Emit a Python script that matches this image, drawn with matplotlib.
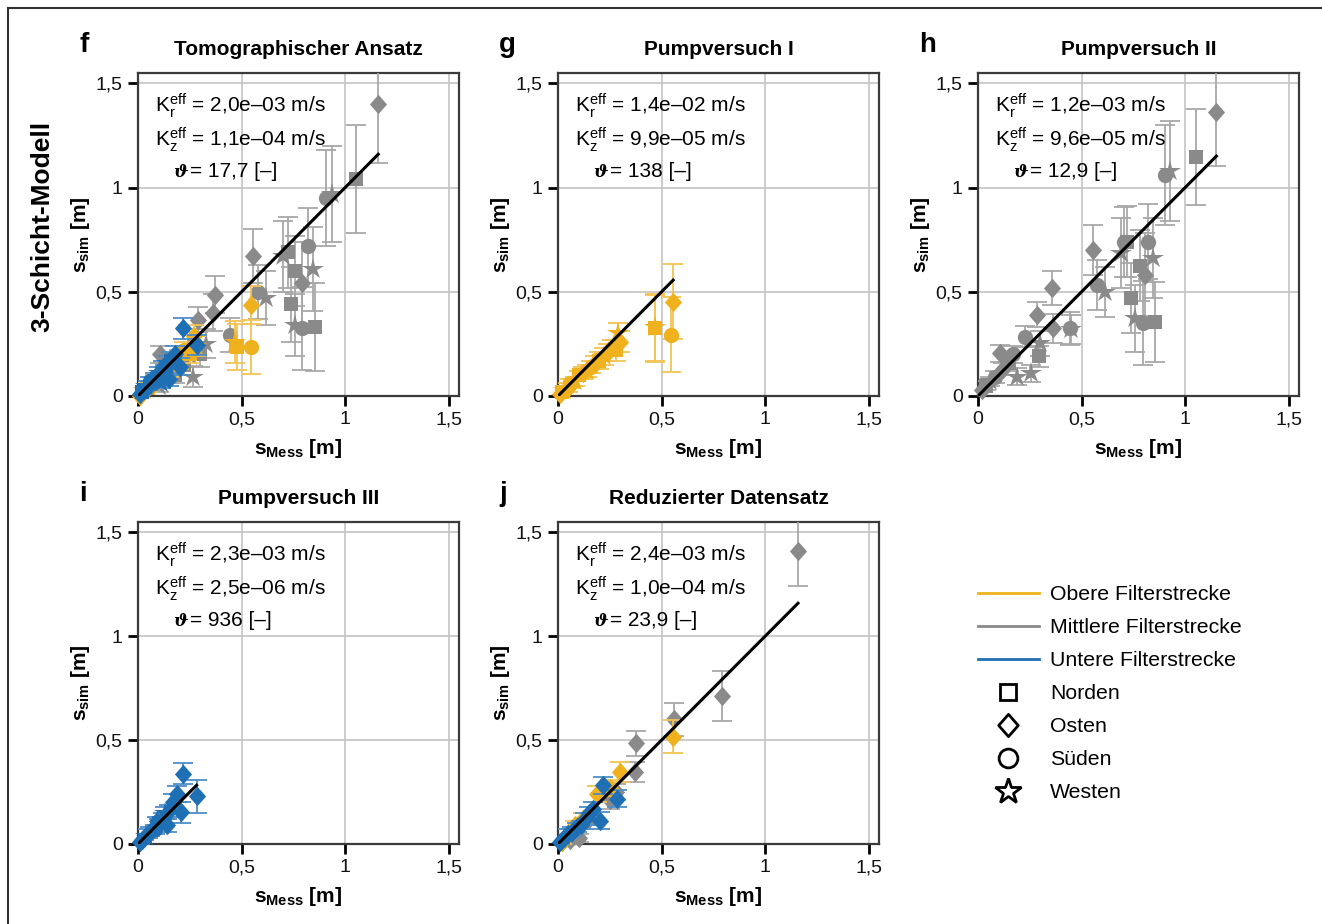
import matplotlib
matplotlib.use("Agg")
import matplotlib.pyplot as plt
from matplotlib.lines import Line2D
from matplotlib.path import Path

plt.rcParams['font.family'] = ['Liberation Sans', 'DejaVu Sans']
plt.rcParams['mathtext.fontset'] = 'custom'
plt.rcParams['mathtext.rm'] = 'Liberation Sans'
plt.rcParams['mathtext.bf'] = 'Liberation Sans:bold'
plt.rcParams['mathtext.it'] = 'Liberation Sans:italic'

# ---------------- data ----------------
panel_letters = ['f', 'g', 'h', 'i', 'j']
panel_titles = ['Tomographischer Ansatz', 'Pumpversuch I', 'Pumpversuch II',
                'Pumpversuch III', 'Reduzierter Datensatz']
kr_text = ['2,0e–03', '1,4e–02', '1,2e–03', '2,3e–03', '2,4e–03']
kz_text = ['1,1e–04', '9,9e–05', '9,6e–05', '2,5e–06', '1,0e–04']
theta_text = ['17,7', '138', '12,9', '936', '23,9']

tick_values = [0, 0.5, 1, 1.5]
tick_labels = ['0', '0,5', '1', '1,5']

filter_names = ['Obere Filterstrecke', 'Mittlere Filterstrecke', 'Untere Filterstrecke']
filter_colors = ['#EFB21E', '#8A8A8A', '#1F6FB4']
filter_err_colors = ['#F2C453', '#A8A8A8', '#4D8DC8']
direction_names = ['Norden', 'Osten', 'Süden', 'Westen']
direction_codes = ['N', 'O', 'S', 'W']

# Panel f (Tomographischer Ansatz)
f_gray_x = [1.16, 1.055, 0.91, 0.935, 0.556, 0.725, 0.70, 0.82, 0.757, 0.79, 0.846, 0.741, 0.757, 0.79, 0.854,
            0.58, 0.62, 0.37, 0.36, 0.444, 0.33, 0.29, 0.267, 0.20, 0.22, 0.25, 0.15, 0.12, 0.08, 0.05, 0.03,
            0.10, 0.18, 0.30, 0.27, 0.106]
f_gray_y = [1.40, 1.04, 0.95, 0.97, 0.67, 0.69, 0.67, 0.72, 0.60, 0.54, 0.61, 0.44, 0.34, 0.325, 0.33,
            0.50, 0.47, 0.486, 0.40, 0.293, 0.25, 0.365, 0.093, 0.17, 0.15, 0.19, 0.10, 0.12, 0.07, 0.04, 0.03,
            0.05, 0.10, 0.20, 0.26, 0.20]
f_gray_e = [0.28, 0.26, 0.23, 0.23, 0.13, 0.17, 0.17, 0.18, 0.17, 0.20, 0.20, 0.18, 0.15, 0.20, 0.21,
            0.13, 0.13, 0.09, 0.09, 0.08, 0.07, 0.06, 0.05, 0.05, 0.05, 0.05, 0.04, 0.04, 0.03, 0.02, 0.02,
            0.03, 0.04, 0.06, 0.06, 0.04]
f_gray_m = ['O', 'N', 'S', 'W', 'O', 'N', 'W', 'S', 'N', 'O', 'W', 'N', 'W', 'S', 'N',
            'S', 'W', 'O', 'O', 'S', 'W', 'O', 'W', 'S', 'N', 'W', 'W', 'O', 'N', 'S', 'O',
            'W', 'N', 'N', 'S', 'O']

f_orange_x = [0.548, 0.548, 0.476, 0.47, 0.28, 0.27, 0.25, 0.22, 0.20, 0.17, 0.15, 0.12, 0.10, 0.07, 0.05, 0.03, 0.01]
f_orange_y = [0.437, 0.237, 0.237, 0.26, 0.24, 0.29, 0.20, 0.22, 0.17, 0.16, 0.12, 0.11, 0.09, 0.07, 0.04, 0.03, 0.00]
f_orange_e = [0.09, 0.13, 0.11, 0.10, 0.05, 0.05, 0.04, 0.04, 0.04, 0.03, 0.03, 0.03, 0.02, 0.02, 0.02, 0.01, 0.01]
f_orange_m = ['O', 'S', 'N', 'W', 'W', 'O', 'N', 'S', 'W', 'O', 'N', 'W', 'S', 'O', 'N', 'W', 'O']

f_blue_x = [0.219, 0.283, 0.203, 0.18, 0.16, 0.14, 0.13, 0.12, 0.10, 0.09, 0.08, 0.06, 0.05, 0.04, 0.03, 0.02, 0.01, 0.15, 0.11]
f_blue_y = [0.325, 0.245, 0.14, 0.20, 0.17, 0.16, 0.12, 0.14, 0.11, 0.08, 0.09, 0.07, 0.05, 0.05, 0.03, 0.02, 0.01, 0.08, 0.06]
f_blue_e = [0.05, 0.05, 0.04, 0.04, 0.04, 0.03, 0.03, 0.03, 0.03, 0.02, 0.02, 0.02, 0.02, 0.02, 0.01, 0.01, 0.01, 0.03, 0.02]
f_blue_m = ['O', 'O', 'O', 'O', 'N', 'W', 'S', 'O', 'W', 'N', 'O', 'S', 'O', 'W', 'O', 'N', 'O', 'O', 'W']

# Panel g (Pumpversuch I) - only upper filter section
g_orange_x = [0.556, 0.548, 0.468, 0.47, 0.30, 0.29, 0.28, 0.26, 0.24, 0.22, 0.20, 0.18, 0.16, 0.14, 0.12, 0.10,
              0.08, 0.06, 0.05, 0.03, 0.02, 0.01]
g_orange_y = [0.453, 0.293, 0.325, 0.33, 0.26, 0.30, 0.22, 0.23, 0.21, 0.19, 0.17, 0.16, 0.14, 0.12, 0.11, 0.10,
              0.07, 0.06, 0.04, 0.03, 0.02, 0.01]
g_orange_e = [0.18, 0.18, 0.16, 0.16, 0.05, 0.05, 0.05, 0.04, 0.04, 0.04, 0.04, 0.03, 0.03, 0.03, 0.03, 0.02,
              0.02, 0.02, 0.02, 0.01, 0.01, 0.01]
g_orange_m = ['O', 'S', 'N', 'W', 'O', 'W', 'N', 'S', 'O', 'W', 'N', 'O', 'S', 'W', 'O', 'N',
              'W', 'S', 'O', 'W', 'N', 'O']

# Panel h (Pumpversuch II) - only middle filter section
h_gray_x = [1.151, 1.052, 0.902, 0.926, 0.553, 0.704, 0.69, 0.72, 0.819, 0.843, 0.78, 0.806, 0.573, 0.612, 0.359,
            0.74, 0.757, 0.797, 0.853, 0.444, 0.36, 0.283, 0.227, 0.30, 0.296, 0.106, 0.19, 0.254, 0.15,
            0.12, 0.08, 0.06, 0.04, 0.02, 0.17, 0.45]
h_gray_y = [1.364, 1.148, 1.062, 1.08, 0.699, 0.739, 0.686, 0.74, 0.74, 0.662, 0.626, 0.582, 0.534, 0.50, 0.518,
            0.47, 0.373, 0.35, 0.355, 0.325, 0.325, 0.39, 0.285, 0.253, 0.19, 0.205, 0.093, 0.109, 0.16,
            0.13, 0.09, 0.07, 0.05, 0.03, 0.20, 0.32]
h_gray_e = [0.26, 0.23, 0.24, 0.24, 0.12, 0.17, 0.17, 0.17, 0.18, 0.19, 0.17, 0.20, 0.12, 0.12, 0.08,
            0.17, 0.16, 0.20, 0.19, 0.08, 0.07, 0.06, 0.05, 0.06, 0.05, 0.04, 0.04, 0.04, 0.04,
            0.03, 0.03, 0.02, 0.02, 0.01, 0.04, 0.07]
h_gray_m = ['O', 'N', 'S', 'W', 'O', 'S', 'W', 'N', 'S', 'W', 'N', 'O', 'S', 'W', 'O',
            'N', 'W', 'S', 'N', 'S', 'O', 'O', 'S', 'W', 'N', 'O', 'W', 'W', 'N',
            'O', 'S', 'W', 'N', 'O', 'S', 'W']

# Panel i (Pumpversuch III) - only lower filter section
i_blue_x = [0.219, 0.283, 0.19, 0.21, 0.17, 0.15, 0.13, 0.12, 0.10, 0.09, 0.08, 0.06, 0.05, 0.04, 0.03, 0.02, 0.01, 0.14]
i_blue_y = [0.339, 0.23, 0.24, 0.153, 0.20, 0.16, 0.15, 0.12, 0.10, 0.11, 0.07, 0.06, 0.05, 0.04, 0.03, 0.02, 0.01, 0.09]
i_blue_e = [0.05, 0.08, 0.04, 0.05, 0.04, 0.03, 0.03, 0.03, 0.02, 0.02, 0.02, 0.02, 0.02, 0.01, 0.01, 0.01, 0.01, 0.03]
i_blue_m = ['O', 'O', 'O', 'O', 'O', 'O', 'W', 'O', 'N', 'O', 'S', 'O', 'O', 'W', 'O', 'O', 'O', 'O']

# Panel j (Reduzierter Datensatz) - only east wells
j_gray_x = [1.159, 0.793, 0.56, 0.375, 0.37, 0.28, 0.25, 0.15, 0.10, 0.06, 0.04, 0.02]
j_gray_y = [1.41, 0.714, 0.60, 0.484, 0.347, 0.25, 0.21, 0.12, 0.03, 0.02, 0.03, 0.01]
j_gray_e = [0.17, 0.12, 0.08, 0.06, 0.05, 0.04, 0.04, 0.03, 0.02, 0.02, 0.01, 0.01]
j_gray_m = ['O'] * 12

j_orange_x = [0.553, 0.30, 0.19, 0.25, 0.12, 0.08, 0.05, 0.02]
j_orange_y = [0.516, 0.347, 0.24, 0.27, 0.12, 0.09, 0.05, 0.01]
j_orange_e = [0.08, 0.05, 0.04, 0.04, 0.03, 0.02, 0.02, 0.01]
j_orange_m = ['O'] * 8

j_blue_x = [0.219, 0.283, 0.203, 0.17, 0.15, 0.13, 0.11, 0.09, 0.07, 0.05, 0.03, 0.01]
j_blue_y = [0.282, 0.218, 0.113, 0.17, 0.15, 0.12, 0.09, 0.08, 0.06, 0.05, 0.03, 0.01]
j_blue_e = [0.04, 0.04, 0.04, 0.03, 0.03, 0.03, 0.02, 0.02, 0.02, 0.02, 0.01, 0.01]
j_blue_m = ['O'] * 12

# ---------------- style ----------------
diamond = Path([(0, 1), (0.88, 0), (0, -1), (-0.88, 0), (0, 1)],
               [Path.MOVETO, Path.LINETO, Path.LINETO, Path.LINETO, Path.CLOSEPOLY])
marker_map = {'N': 's', 'O': diamond, 'S': 'o', 'W': '*'}
marker_size = {'N': 9.5, 'O': 14, 'S': 11, 'W': 16}
legend_marker_size = {'N': 11, 'O': 16, 'S': 13.5, 'W': 19}

W, H = 1322, 924
fig = plt.figure(figsize=(W / 100, H / 100), dpi=100)


def fx(px):
    return px / W


def fy(py):
    return 1 - py / H


axes_boxes = [  # left, top, right, bottom in pixels
    (138, 73, 459, 396),
    (558, 73, 879, 396),
    (978, 73, 1299, 396),
    (138, 522, 459, 844),
    (558, 522, 879, 844),
]

panel_series = [
    [(f_gray_x, f_gray_y, f_gray_e, f_gray_m, 1), (f_orange_x, f_orange_y, f_orange_e, f_orange_m, 0),
     (f_blue_x, f_blue_y, f_blue_e, f_blue_m, 2)],
    [(g_orange_x, g_orange_y, g_orange_e, g_orange_m, 0)],
    [(h_gray_x, h_gray_y, h_gray_e, h_gray_m, 1)],
    [(i_blue_x, i_blue_y, i_blue_e, i_blue_m, 2)],
    [(j_gray_x, j_gray_y, j_gray_e, j_gray_m, 1), (j_orange_x, j_orange_y, j_orange_e, j_orange_m, 0),
     (j_blue_x, j_blue_y, j_blue_e, j_blue_m, 2)],
]

for k, (l, t, r, b) in enumerate(axes_boxes):
    ax = fig.add_axes([fx(l), fy(b), fx(r) - fx(l), fy(t) - fy(b)])
    ax.set_xlim(0, 1.55)
    ax.set_ylim(0, 1.55)
    ax.set_xticks(tick_values)
    ax.set_xticklabels(tick_labels)
    ax.set_yticks(tick_values)
    ax.set_yticklabels(tick_labels)
    ax.grid(True, color='#C8C8C8', lw=1.3)
    ax.set_axisbelow(True)
    for s in ax.spines.values():
        s.set_color('#3A3A3A')
        s.set_linewidth(1.6)
        s.set_zorder(2)
    ax.tick_params(direction='out', length=7, width=2, color='black',
                   labelsize=14, pad=4, labelcolor='#111111')

    allx = []
    z = 3
    for xs, ys, es, ms, ci in panel_series[k]:
        allx += xs
        for x, y, e, m in zip(xs, ys, es, ms):
            ax.errorbar(x, y, yerr=e, fmt='none', ecolor=filter_err_colors[ci],
                        elinewidth=1.3, capsize=7, capthick=1.3, zorder=z)
            ax.plot([x], [y], ls='none', marker=marker_map[m], ms=marker_size[m],
                    color=filter_colors[ci], mec=filter_colors[ci], mew=0,
                    clip_on=False, zorder=z + 0.5)
        z += 1
    xmax = max(allx)
    ax.plot([0, xmax], [0, xmax], color='black', lw=2.2, zorder=10)

    ax.set_xlabel(r'$\mathbf{s}_{\mathbf{Mess}}$ [m]', fontsize=15, fontweight='bold', labelpad=6)
    ax.set_ylabel(r'$\mathbf{s}_{\mathbf{sim}}$ [m]', fontsize=15, fontweight='bold', labelpad=3)
    ax.set_title(panel_titles[k], fontsize=15, fontweight='bold', pad=13)

    ax.text(0.053, 0.879, r'$\mathrm{K}_\mathrm{r}^\mathrm{eff}$ = ' + kr_text[k] + ' m/s',
            transform=ax.transAxes, fontsize=15, va='baseline', ha='left', zorder=11)
    ax.text(0.053, 0.774, r'$\mathrm{K}_\mathrm{z}^\mathrm{eff}$ = ' + kz_text[k] + ' m/s',
            transform=ax.transAxes, fontsize=15, va='baseline', ha='left', zorder=11)
    ax.text(0.108, 0.678, 'ϑ', family=['DejaVu Serif', 'DejaVu Sans'], fontweight='bold', style='italic',
            transform=ax.transAxes, fontsize=12.5, va='baseline', ha='left', zorder=11)
    ax.text(0.162, 0.678, '= ' + theta_text[k] + ' [–]',
            transform=ax.transAxes, fontsize=15, va='baseline', ha='left', zorder=11)

    fig.text(fx(l - 59), fy(t - 28), panel_letters[k], fontsize=20, fontweight='bold',
             ha='left', va='center')

fig.text(fx(42), fy(226), '3-Schicht-Modell', rotation=90, fontsize=19, fontweight='bold',
         ha='center', va='center')

# legend
handles = [Line2D([], [], color=c, lw=2) for c in filter_colors]
for code in direction_codes:
    handles.append(Line2D([], [], ls='none', marker=marker_map[code], mfc='none', mec='black',
                          mew=2, ms=legend_marker_size[code]))
labels = filter_names + direction_names
fig.legend(handles, labels, loc='upper left', bbox_to_anchor=(fx(978), fy(585)),
           frameon=False, fontsize=15.3, handlelength=2.85, handletextpad=0.55,
           labelspacing=0.66, borderpad=0, borderaxespad=0)

# outer frame
fig.add_artist(Line2D([fx(8), fx(8)], [0, fy(8)], transform=fig.transFigure, color='#333333', lw=1.5))
fig.add_artist(Line2D([fx(8), 1], [fy(8), fy(8)], transform=fig.transFigure, color='#333333', lw=1.5))

fig.savefig('out.png', dpi=100)
